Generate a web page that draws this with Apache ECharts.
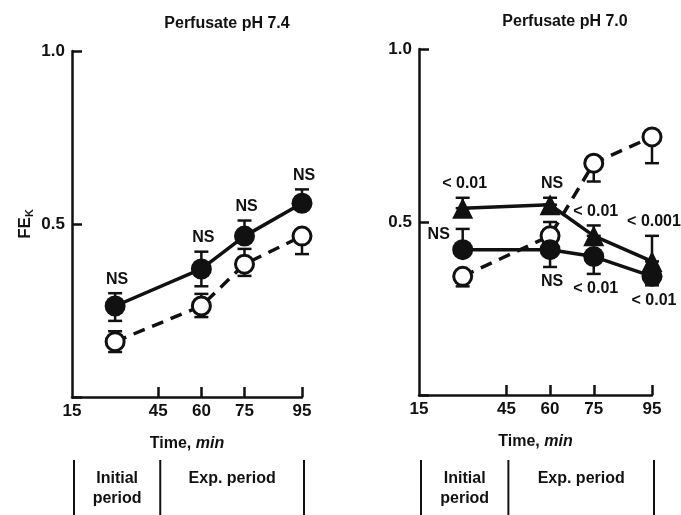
<!DOCTYPE html>
<html>
<head>
<meta charset="utf-8">
<script src="https://cdn.jsdelivr.net/npm/echarts@6/dist/echarts.min.js"></script>
<style>
  html, body { margin: 0; padding: 0; background: #fff; }
  #chart { width: 681px; height: 515px; }
</style>
</head>
<body>
<div id="chart"></div>
<script>
// time points (min) and axes
var times = [30, 60, 75, 95];
var xTicks = [15, 45, 60, 75, 95];
var yTicks = [0.5, 1.0];
var periodEdges = [15, 45, 95];
var periodNames = ['Initial\nperiod', 'Exp. period'];
var panelTitles = ['Perfusate pH 7.4', 'Perfusate pH 7.0'];

// pH 7.4 panel
var leftFilled = [0.263, 0.37, 0.465, 0.56];
var leftFilledLow = [0.22, 0.32, 0.465, 0.56];
var leftFilledHigh = [0.30, 0.42, 0.51, 0.60];
var leftFilledNotes = ['NS', 'NS', 'NS', 'NS'];
var leftOpen = [0.16, 0.263, 0.384, 0.465];
var leftOpenLow = [0.13, 0.231, 0.35, 0.413];
var leftOpenHigh = [0.19, 0.298, 0.428, 0.465];

// pH 7.0 panel
var rightTri = [0.54, 0.55, 0.46, 0.386];
var rightTriLow = [0.54, 0.55, 0.46, 0.386];
var rightTriHigh = [0.57, 0.57, 0.49, 0.46];
var rightTriNotes = ['< 0.01', 'NS', '< 0.01', '< 0.001'];
var rightFilled = [0.42, 0.42, 0.40, 0.343];
var rightFilledLow = [0.42, 0.37, 0.35, 0.317];
var rightFilledHigh = [0.48, 0.42, 0.40, 0.343];
var rightFilledNotes = ['NS', 'NS', '< 0.01', '< 0.01'];
var rightOpen = [0.343, 0.46, 0.67, 0.746];
var rightOpenLow = [0.314, 0.46, 0.617, 0.67];
var rightOpenHigh = [0.343, 0.50, 0.67, 0.746];

var ink = '#111';
var font = 'Liberation Sans, Arial, sans-serif';

function pts(vals) {
  return times.map(function (t, i) { return [t, vals[i]]; });
}

// vertical error bar with caps
function errorBars(low, high, idx) {
  return {
    type: 'custom',
    xAxisIndex: idx,
    yAxisIndex: idx,
    z: 1,
    silent: true,
    encode: { x: 0, y: [1, 2] },
    data: times.map(function (t, i) { return [t, low[i], high[i]]; }),
    renderItem: function (params, api) {
      var lo = api.coord([api.value(0), api.value(1)]);
      var hi = api.coord([api.value(0), api.value(2)]);
      var hw = 7;
      var st = { stroke: ink, lineWidth: 2.5 };
      return {
        type: 'group',
        children: [
          { type: 'line', shape: { x1: lo[0], y1: lo[1], x2: hi[0], y2: hi[1] }, style: st },
          { type: 'line', shape: { x1: lo[0] - hw, y1: lo[1], x2: lo[0] + hw, y2: lo[1] }, style: st },
          { type: 'line', shape: { x1: hi[0] - hw, y1: hi[1], x2: hi[0] + hw, y2: hi[1] }, style: st }
        ]
      };
    }
  };
}

// significance labels: above the upper cap, below the lower cap, or left of the point
function notes(texts, vals, low, high, where, idx) {
  return {
    type: 'custom',
    xAxisIndex: idx,
    yAxisIndex: idx,
    z: 5,
    silent: true,
    encode: { x: 0, y: 1 },
    data: times.map(function (t, i) {
      var y = where[i] === 'bottom' ? low[i] : where[i] === 'top' ? high[i] : vals[i];
      return [t, y, i];
    }),
    renderItem: function (params, api) {
      var i = api.value(2);
      var p = api.coord([api.value(0), api.value(1)]);
      var dx = 2, dy = -14;
      if (where[i] === 'bottom') dy = 15;
      if (where[i] === 'left') { dx = -24; dy = -15; }
      return {
        type: 'text',
        x: p[0] + dx,
        y: p[1] + dy,
        style: {
          text: texts[i], fill: ink, font: 'bold 16px ' + font,
          textAlign: 'center', textVerticalAlign: 'middle'
        }
      };
    }
  };
}

function filledLine(vals, symbol, idx) {
  return {
    type: 'line', xAxisIndex: idx, yAxisIndex: idx, z: 3,
    data: pts(vals),
    symbol: symbol,
    symbolSize: symbol === 'triangle' ? 21 : 21,
    itemStyle: { color: ink },
    lineStyle: { color: ink, width: 3.5 }
  };
}

function openLine(vals, idx) {
  return {
    type: 'line', xAxisIndex: idx, yAxisIndex: idx, z: 2,
    data: pts(vals),
    symbol: 'circle',
    symbolSize: 18,
    itemStyle: { color: '#fff', borderColor: ink, borderWidth: 3 },
    lineStyle: { color: ink, width: 3.5, type: [12, 8] }
  };
}

function xAxis(idx) {
  return {
    type: 'value', gridIndex: idx, min: 15, max: 95,
    name: 'Time, {i|min}', nameLocation: 'middle', nameGap: 39,
    nameTextStyle: {
      color: ink, fontSize: 16, fontWeight: 'bold', fontFamily: font,
      rich: { i: { fontStyle: 'italic', fontSize: 16, fontWeight: 'bold', fontFamily: font, color: ink } }
    },
    axisLine: { lineStyle: { color: ink, width: 2.5 } },
    axisTick: { inside: true, length: 10, lineStyle: { color: ink, width: 2.5 }, customValues: xTicks.slice(1) },
    axisLabel: { customValues: xTicks, color: ink, fontSize: 17, fontWeight: 'bold', fontFamily: font, margin: 6 },
    splitLine: { show: false }
  };
}

function yAxis(idx) {
  return {
    type: 'value', gridIndex: idx, min: 0, max: 1, interval: 0.5,
    name: idx === 0 ? 'FE{k|K}' : '', nameLocation: 'middle', nameGap: 37, nameRotate: 90,
    nameTextStyle: {
      color: ink, fontSize: 17, fontWeight: 'bold', fontFamily: font,
      rich: { k: { fontSize: 11, fontWeight: 'bold', fontFamily: font, color: ink, verticalAlign: 'bottom', padding: [8, 0, 0, 0] } }
    },
    axisLine: { lineStyle: { color: ink, width: 2.5 } },
    axisTick: { inside: true, length: 10, lineStyle: { color: ink, width: 2.5 } },
    axisLabel: {
      color: ink, fontSize: 17, fontWeight: 'bold', fontFamily: font, margin: 7,
      formatter: function (v) { return yTicks.indexOf(v) >= 0 ? v.toFixed(1) : ''; }
    },
    splitLine: { show: false }
  };
}

var chart = echarts.init(document.getElementById('chart'));
chart.setOption({
  animation: false,
  backgroundColor: '#fff',
  textStyle: { fontFamily: font },
  title: [
    { text: panelTitles[0], left: 222, top: 11, textAlign: 'center',
      textStyle: { color: ink, fontSize: 16, fontWeight: 'bold', fontFamily: font } },
    { text: panelTitles[1], left: 560, top: 9, textAlign: 'center',
      textStyle: { color: ink, fontSize: 16, fontWeight: 'bold', fontFamily: font } }
  ],
  grid: [
    { left: 72, top: 51, width: 230, height: 346 },
    { left: 419, top: 49, width: 233, height: 346 }
  ],
  xAxis: [xAxis(0), xAxis(1)],
  yAxis: [yAxis(0), yAxis(1)],
  series: [
    errorBars(leftFilledLow, leftFilledHigh, 0),
    errorBars(leftOpenLow, leftOpenHigh, 0),
    filledLine(leftFilled, 'circle', 0),
    openLine(leftOpen, 0),
    notes(leftFilledNotes, leftFilled, leftFilledLow, leftFilledHigh, ['top', 'top', 'top', 'top'], 0),

    errorBars(rightTriLow, rightTriHigh, 1),
    errorBars(rightFilledLow, rightFilledHigh, 1),
    errorBars(rightOpenLow, rightOpenHigh, 1),
    openLine(rightOpen, 1),
    filledLine(rightTri, 'triangle', 1),
    filledLine(rightFilled, 'circle', 1),
    notes(rightTriNotes, rightTri, rightTriLow, rightTriHigh, ['top', 'top', 'top', 'top'], 1),
    notes(rightFilledNotes, rightFilled, rightFilledLow, rightFilledHigh, ['left', 'bottom', 'bottom', 'bottom'], 1)
  ]
});

// period brackets below each time axis
var graphics = [];
[0, 1].forEach(function (idx) {
  var xs = periodEdges.map(function (v) { return chart.convertToPixel({ xAxisIndex: idx }, v); });
  xs.forEach(function (x) {
    graphics.push({ type: 'line', shape: { x1: x + 2, y1: 460, x2: x + 2, y2: 515 }, style: { stroke: ink, lineWidth: 2 } });
  });
  periodNames.forEach(function (name, i) {
    graphics.push({
      type: 'text', x: (xs[i] + xs[i + 1]) / 2 + 2, y: 469,
      style: { text: name, fill: ink, font: 'bold 16px ' + font, textAlign: 'center', textVerticalAlign: 'top', lineHeight: 20 }
    });
  });
});
chart.setOption({ graphic: graphics });
</script>
</body>
</html>
